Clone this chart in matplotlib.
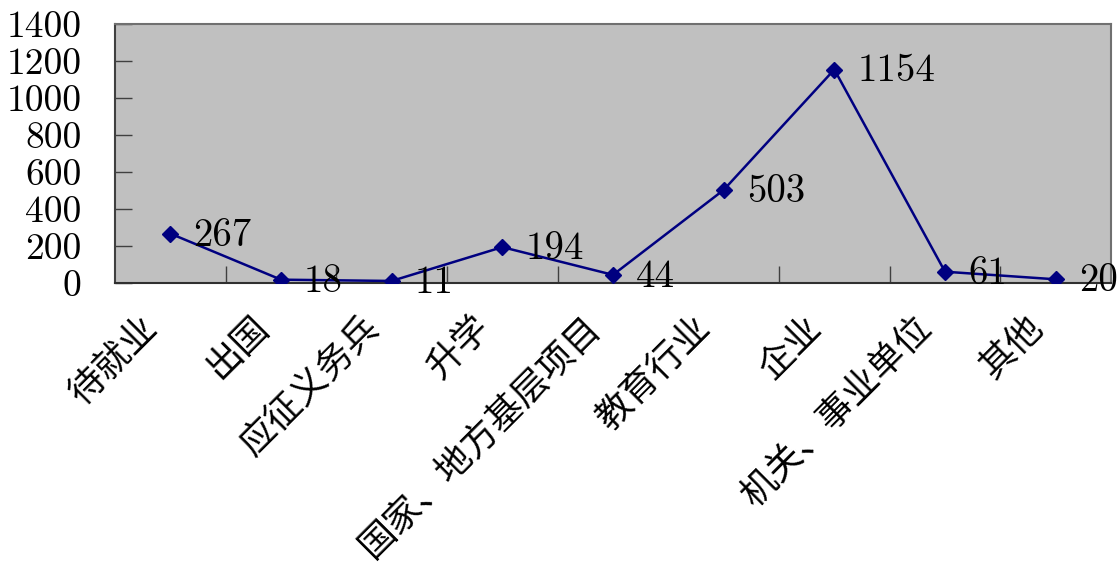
import matplotlib
matplotlib.use("Agg")
import matplotlib.pyplot as plt
from matplotlib.transforms import offset_copy, blended_transform_factory
from matplotlib.ticker import FixedLocator

categories = ["待就业", "出国", "应征义务兵", "升学", "国家、地方基层项目",
              "教育行业", "企业", "机关、事业单位", "其他"]
counts = [267, 18, 11, 194, 44, 503, 1154, 61, 20]
y_ticks = [0, 200, 400, 600, 800, 1000, 1200, 1400]

NUM_FONT = ["cmr10", "DejaVu Serif"]
CJK_FONT = ["Noto Sans CJK SC", "DejaVu Sans"]
NUM_FS = 28
CJK_FS = 26

plt.rcParams["axes.formatter.use_mathtext"] = True

fig = plt.figure(figsize=(11.18, 5.68), dpi=100)
ax = fig.add_axes([115 / 1118, 1 - 283 / 568, 996 / 1118, 259 / 568])
ax.set_facecolor("#C0C0C0")

x = list(range(len(categories)))
ax.plot(x, counts, color="#000080", lw=1.8, marker="D", ms=8.5,
        markerfacecolor="#000080", markeredgecolor="#000080", zorder=3)

ax.set_xlim(-0.5, len(categories) - 0.5)
ax.set_ylim(0, 1400)

# y axis
ax.yaxis.set_major_locator(FixedLocator(y_ticks))
ax.tick_params(axis="y", direction="in", length=12, width=1, color="#404040",
               pad=24, labelsize=27)
ax.set_yticklabels([str(v) for v in y_ticks], fontfamily=NUM_FONT)

# x axis: ticks at bin boundaries, labels drawn by hand
ax.xaxis.set_major_locator(FixedLocator([i + 0.5 for i in x[:-1]]))
ax.tick_params(axis="x", direction="in", length=12, width=1, color="#404040",
               labelbottom=False)

for s in ax.spines.values():
    s.set_color("#707070")
    s.set_linewidth(1.5)
ax.spines["bottom"].set_color("#303030")
ax.spines["left"].set_color("#404040")

# category labels
trans = blended_transform_factory(ax.transData, ax.transAxes)
lab_tr = offset_copy(trans, fig=fig, x=-18, y=-39, units="dots")
for i, name in enumerate(categories):
    ax.text(i, 0, name, transform=lab_tr, rotation=45, rotation_mode="anchor",
            ha="right", va="center", fontsize=CJK_FS, family=CJK_FONT)

# value labels
val_tr = offset_copy(ax.transData, fig=fig, x=23, y=-2, units="dots")
for i, v in enumerate(counts):
    ax.text(i, v, str(v), transform=val_tr, ha="left", va="center",
            fontsize=NUM_FS, family=NUM_FONT, zorder=4)

fig.savefig("out.png", dpi=100)
